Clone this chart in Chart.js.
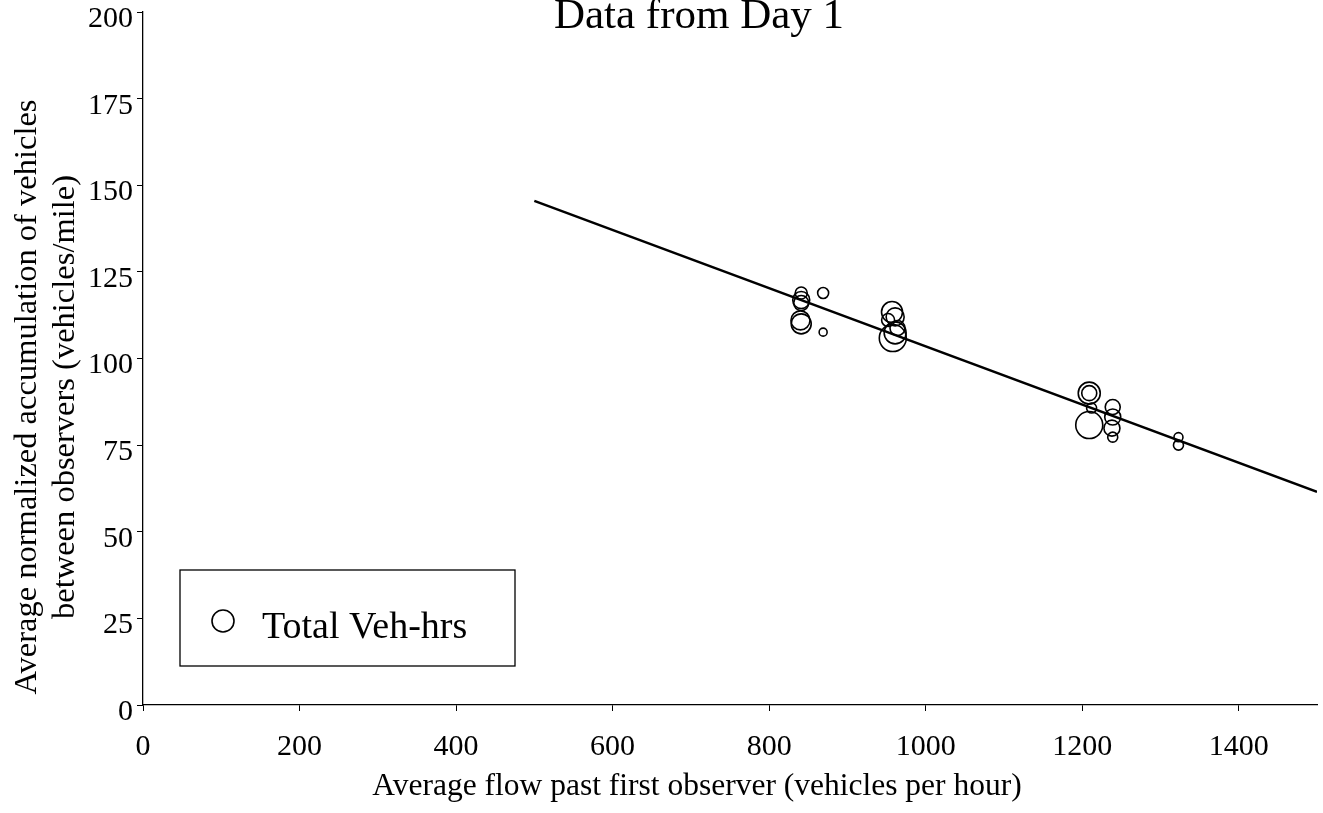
<!DOCTYPE html>
<html>
<head>
<meta charset="utf-8">
<script src="https://cdn.jsdelivr.net/npm/chart.js@4/dist/chart.umd.min.js"></script>
<style>
html,body{margin:0;padding:0;background:#fff;}
#wrap{width:1323px;height:813px;position:relative;}
</style>
</head>
<body>
<div id="wrap"><canvas id="c" width="1323" height="813"></canvas></div>
<script>
// ---- data ----
const flowX = [841, 841, 841, 840, 841, 869, 869,
               957, 961, 952, 964, 958, 961,
               1209, 1209, 1212, 1209, 1239, 1239, 1238, 1239,
               1323, 1323];
const accumY = [118.9, 116.9, 116.0, 111.0, 110.0, 118.9, 107.6,
                113.4, 112.0, 111.1, 108.8, 105.9, 107.4,
                90.0, 90.0, 85.7, 80.8, 86.0, 83.1, 79.9, 77.3,
                77.3, 75.0];
const vehHrs = [6, 8.5, 7.5, 9.5, 10, 5.5, 4,
                10.5, 9, 6.5, 7.5, 13.5, 11,
                11, 7.5, 5, 13.5, 7.5, 8, 8, 5,
                4.5, 5];
const fitX = [500, 1500];
const fitY = [145.5, 61.5];
const xTicks = [0, 200, 400, 600, 800, 1000, 1200, 1400];
const yTicks = [0, 25, 50, 75, 100, 125, 150, 175, 200];
const titleText = 'Data from Day 1';
const xTitle = 'Average flow past first observer (vehicles per hour)';
const yTitle = ['Average normalized accumulation of vehicles', 'between observers (vehicles/mile)'];
const legendText = 'Total Veh-hrs';

const FONT = "'Liberation Serif', 'Times New Roman', serif";

const bubbles = flowX.map((x, i) => ({x: x, y: accumY[i], r: vehHrs[i]}));
const fitLine = fitX.map((x, i) => ({x: x, y: fitY[i]}));

const textPlugin = {
  id: 'texts',
  afterDraw(chart) {
    const ctx = chart.ctx;
    ctx.save();
    ctx.fillStyle = '#000';
    // title
    ctx.font = '43px ' + FONT;
    ctx.textAlign = 'center';
    ctx.textBaseline = 'alphabetic';
    ctx.fillText(titleText, 699, 28);
    // x axis title
    ctx.font = '31.5px ' + FONT;
    ctx.fillText(xTitle, 697, 795);
    // y axis title
    ctx.save();
    ctx.translate(0, 397);
    ctx.rotate(-Math.PI / 2);
    ctx.font = '32.5px ' + FONT;
    ctx.textBaseline = 'middle';
    ctx.fillText(yTitle[0], 0, 27);
    ctx.fillText(yTitle[1], 0, 65);
    ctx.restore();
    // legend box
    ctx.strokeStyle = '#000';
    ctx.lineWidth = 1.3;
    ctx.strokeRect(180, 570, 335, 96);
    ctx.beginPath();
    ctx.lineWidth = 1.6;
    ctx.arc(223, 621, 11, 0, Math.PI * 2);
    ctx.stroke();
    ctx.font = '38px ' + FONT;
    ctx.textAlign = 'left';
    ctx.textBaseline = 'alphabetic';
    ctx.fillText(legendText, 262, 638);
    ctx.restore();
  }
};

new Chart(document.getElementById('c'), {
  type: 'bubble',
  data: {
    datasets: [
      {
        type: 'line',
        data: fitLine,
        borderColor: '#000',
        borderWidth: 2.5,
        pointRadius: 0,
        fill: false,
        order: 1
      },
      {
        type: 'bubble',
        data: bubbles,
        backgroundColor: 'rgba(0,0,0,0)',
        borderColor: '#000',
        borderWidth: 1.6,
        order: 0
      }
    ]
  },
  options: {
    responsive: false,
    animation: false,
    events: [],
    layout: {autoPadding: false, padding: {top: 12, right: 6, left: 0, bottom: 0}},
    plugins: {legend: {display: false}, tooltip: {enabled: false}, title: {display: false}},
    scales: {
      x: {
        type: 'linear',
        min: 0, max: 1500,
        afterBuildTicks(scale) { scale.ticks = xTicks.map(v => ({value: v})); },
        afterFit(scale) { scale.height = 108; scale.paddingLeft = 0; scale.paddingRight = 0; },
        grid: {display: true, drawOnChartArea: false, drawTicks: true, tickLength: 6, color: '#000', lineWidth: 1},
        border: {display: true, color: '#000', width: 1.3},
        ticks: {color: '#000', font: {family: FONT, size: 30}, padding: 18, maxRotation: 0,
                callback: v => String(v)}
      },
      y: {
        type: 'linear',
        min: 0, max: 200,
        afterBuildTicks(scale) { scale.ticks = yTicks.map(v => ({value: v})); },
        afterFit(scale) { scale.width = 143; scale.paddingTop = 0; scale.paddingBottom = 0; },
        grid: {display: true, drawOnChartArea: false, drawTicks: true, tickLength: 6, color: '#000', lineWidth: 1},
        border: {display: true, color: '#000', width: 1.3},
        ticks: {color: '#000', font: {family: FONT, size: 30}, padding: 4, labelOffset: 7,
                callback: v => String(v)}
      }
    }
  },
  plugins: [textPlugin]
});
</script>
</body>
</html>
